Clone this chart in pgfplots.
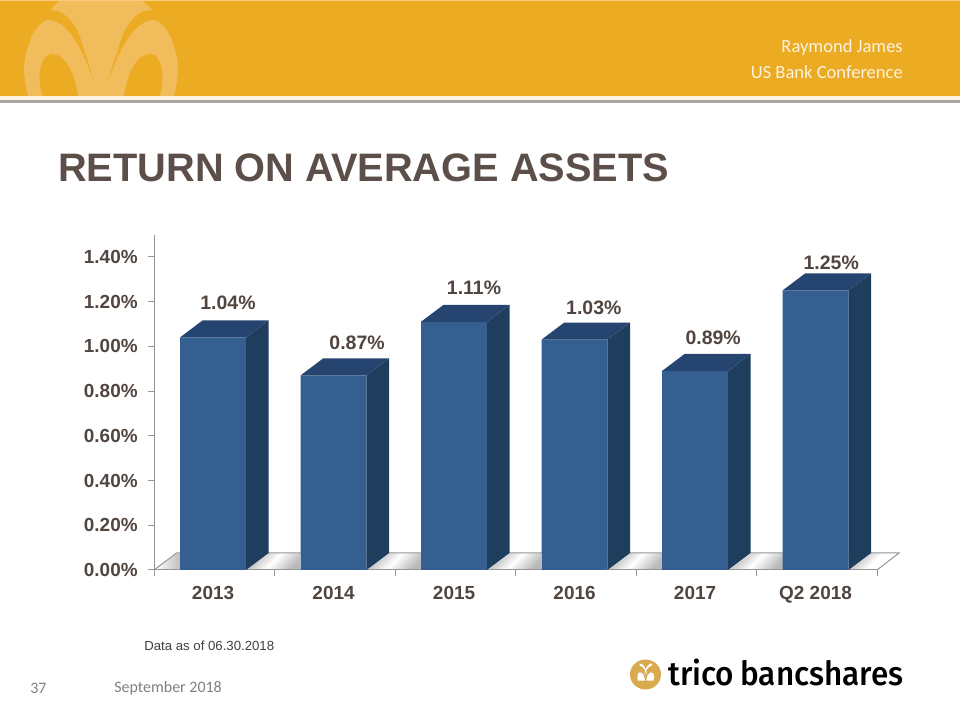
\documentclass[border=0pt]{standalone}
\usepackage{fontspec}
\usepackage{pgfplots}
\pgfplotsset{compat=1.18}
\setmainfont{Liberation Sans}
\newfontfamily\calib{Carlito}
\newfontfamily\logofont[FakeStretch=0.945]{Fira Sans Medium}
\definecolor{txt}{HTML}{51453F}
\definecolor{titlec}{HTML}{5C4F4A}
\definecolor{front}{HTML}{365F91}
\definecolor{sidec}{HTML}{1F3D5C}
\definecolor{topc}{HTML}{25446F}
\definecolor{gridc}{HTML}{969696}
\definecolor{orangec}{HTML}{EBAB22}
\definecolor{lightc}{HTML}{F0BC5C}
\definecolor{goldc}{HTML}{D9AB4E}
\definecolor{topline}{HTML}{F6CC7A}
\definecolor{whiteband}{HTML}{FBF3E0}
\definecolor{greyband}{HTML}{A8A4A0}
\definecolor{bannertext}{HTML}{FCF3DF}
\newcommand\wmcuts[1]{%
  \fill[#1] (50,10) .. controls (68,10) and (78,30) .. (81,40) .. controls (85,55) and (91,68) .. (93,80) .. controls (85,55) and (70,22) .. (50,20) -- cycle;
  \fill[#1] (43,96) .. controls (37,85) and (38,54) .. (52,54) .. controls (66,54) and (75,75) .. (78,96) -- cycle;
}
\begin{document}
\begin{tikzpicture}
\path[use as bounding box] (0,0) rectangle (720pt,540pt);
\begin{scope}[shift={(0pt,540pt)},x=0.75pt,y=-0.75pt]
  % banner
  \fill[orangec] (0,0) rectangle (960,96);
  \fill[lightc] (60,0) -- (50,10) -- (50,20) .. controls (33,20) and (24,55) .. (24,68) .. controls (24,78) and (26,88) .. (28,96)
     -- (174,96) .. controls (176,88) and (178,78) .. (178,68) .. controls (178,55) and (169,20) .. (152,20) -- (152,10) -- (142,0) -- cycle;
  \wmcuts{orangec}
  \begin{scope}[shift={(202,0)},xscale=-1]\wmcuts{orangec}\end{scope}
  \fill[topline] (0,0) rectangle (960,1);
  \fill[whiteband] (0,96) rectangle (960,100);
  \fill[greyband] (0,100) rectangle (960,103);
  \node[anchor=east,inner sep=0pt,text=bannertext,font=\calib\fontsize{13.9}{16}\selectfont] at (903,48) {Raymond James};
  \node[anchor=east,inner sep=0pt,text=bannertext,font=\calib\fontsize{13.9}{16}\selectfont] at (903,72) {US Bank Conference};
  % title
  \node[anchor=west,inner sep=0pt,text=titlec,font=\bfseries\fontsize{29.8}{32}\selectfont] at (58,168) {RETURN ON AVERAGE ASSETS};
  % floor
  \fill[white] (154,570) -- (176.5,553) -- (899,553) -- (877,570) -- cycle;
  \foreach \a/\b in {246/300,367/421,488/541,608/662,729/783}{
    \shade[top color=gray!60,bottom color=gray!55,middle color=white,shading angle=45,draw=none]
      (\a,570) -- (\a+22.5,553) -- (\b,553) -- (\b,570) -- cycle;
  }
  \shade[top color=gray!60,bottom color=white,middle color=white,shading angle=45,draw=none]
      (849,570) -- (871.5,553) -- (899,553) -- (877,570) -- cycle;
  \shade[left color=white,right color=gray!50,draw=none] (155,570) -- (176.5,553.5) -- (180,553.5) -- (180,570) -- cycle;
  \draw[gridc,line width=0.75pt] (154,570) -- (176.5,553) -- (899,553) -- (877,570);
  % footer
  \node[anchor=west,inner sep=0pt,text=black!75,font=\fontsize{9.9}{12}\selectfont] at (144,646) {Data as of 06.30.2018};
  \node[anchor=west,inner sep=0pt,text=gray,font=\calib\fontsize{12}{14}\selectfont] at (30,688) {37};
  \node[anchor=west,inner sep=0pt,text=gray,font=\calib\fontsize{12}{14}\selectfont] at (114,688) {September 2018};
  % logo
  \fill[goldc] (645.5,674.5) ellipse (15.5 and 15);
  \begin{scope}[shift={(629.5,661.5)},scale=0.2]
    \wmcuts{white}
    \begin{scope}[shift={(162,0)},xscale=-1]\wmcuts{white}\end{scope}
  \end{scope}
  \node[anchor=west,inner sep=0pt,text=black,font=\logofont\fontsize{25}{28}\selectfont] at (668,672) {trico\hspace{-0.05em} bancshares};
\end{scope}
\begin{axis}[
  at={(115.5pt,112.5pt)},anchor=south west,
  scale only axis,width=542.25pt,height=251.25pt,
  xmin=-0.49,xmax=5.51,ymin=0,ymax=1.498,
  clip=false,
  axis y line=left,axis x line=bottom,
  axis line style={gridc,line width=0.75pt,-},
  tick style={gridc,line width=0.75pt},
  tick align=outside,
  xtick={0,1,2,3,4,5},
  xticklabels={2013,2014,2015,2016,2017,Q2 2018},
  major x tick style={draw=none},
  minor xtick={-0.49,0.51,1.51,2.51,3.51,4.51,5.51},
  minor tick length=4.5pt,major tick length=4.5pt,
  ytick={0,0.2,0.4,0.6,0.8,1.0,1.2,1.4},
  yticklabels={0.00\%,0.20\%,0.40\%,0.60\%,0.80\%,1.00\%,1.20\%,1.40\%},
  tick label style={font=\bfseries\fontsize{14.2}{16}\selectfont,text=txt},
  xticklabel style={yshift=-4pt},
  yticklabel style={xshift=-4.25pt},
]
\addplot[ybar,bar width=0.548,fill=front,draw=none] coordinates {(0,1.04)(1,0.87)(2,1.11)(3,1.03)(4,0.89)(5,1.25)};
% right side faces
\addplot[fill=sidec,draw=none] coordinates {(0.274,0)(0.461,0.076)(0.461,1.116)(0.274,1.04)} -- cycle;
\addplot[fill=sidec,draw=none] coordinates {(1.274,0)(1.461,0.076)(1.461,0.946)(1.274,0.87)} -- cycle;
\addplot[fill=sidec,draw=none] coordinates {(2.274,0)(2.461,0.076)(2.461,1.186)(2.274,1.11)} -- cycle;
\addplot[fill=sidec,draw=none] coordinates {(3.274,0)(3.461,0.076)(3.461,1.106)(3.274,1.03)} -- cycle;
\addplot[fill=sidec,draw=none] coordinates {(4.274,0)(4.461,0.076)(4.461,0.966)(4.274,0.89)} -- cycle;
\addplot[fill=sidec,draw=none] coordinates {(5.274,0)(5.461,0.076)(5.461,1.326)(5.274,1.25)} -- cycle;
% top faces
\addplot[fill=topc,draw=none] coordinates {(-0.274,1.04)(-0.087,1.116)(0.461,1.116)(0.274,1.04)} -- cycle;
\addplot[fill=topc,draw=none] coordinates {(0.726,0.87)(0.913,0.946)(1.461,0.946)(1.274,0.87)} -- cycle;
\addplot[fill=topc,draw=none] coordinates {(1.726,1.11)(1.913,1.186)(2.461,1.186)(2.274,1.11)} -- cycle;
\addplot[fill=topc,draw=none] coordinates {(2.726,1.03)(2.913,1.106)(3.461,1.106)(3.274,1.03)} -- cycle;
\addplot[fill=topc,draw=none] coordinates {(3.726,0.89)(3.913,0.966)(4.461,0.966)(4.274,0.89)} -- cycle;
\addplot[fill=topc,draw=none] coordinates {(4.726,1.25)(4.913,1.326)(5.461,1.326)(5.274,1.25)} -- cycle;
\tikzset{lab/.style={text=txt,font=\bfseries\fontsize{14.6}{16}\selectfont,inner sep=0pt}}
\node[lab] at (axis cs:0.124,1.194) {1.04\%};
\node[lab] at (axis cs:1.195,1.015) {0.87\%};
\node[lab] at (axis cs:2.166,1.261) {1.11\%};
\node[lab] at (axis cs:3.16,1.172) {1.03\%};
\node[lab] at (axis cs:4.15,1.038) {0.89\%};
\node[lab] at (axis cs:5.13,1.373) {1.25\%};
\end{axis}
\end{tikzpicture}
\end{document}
